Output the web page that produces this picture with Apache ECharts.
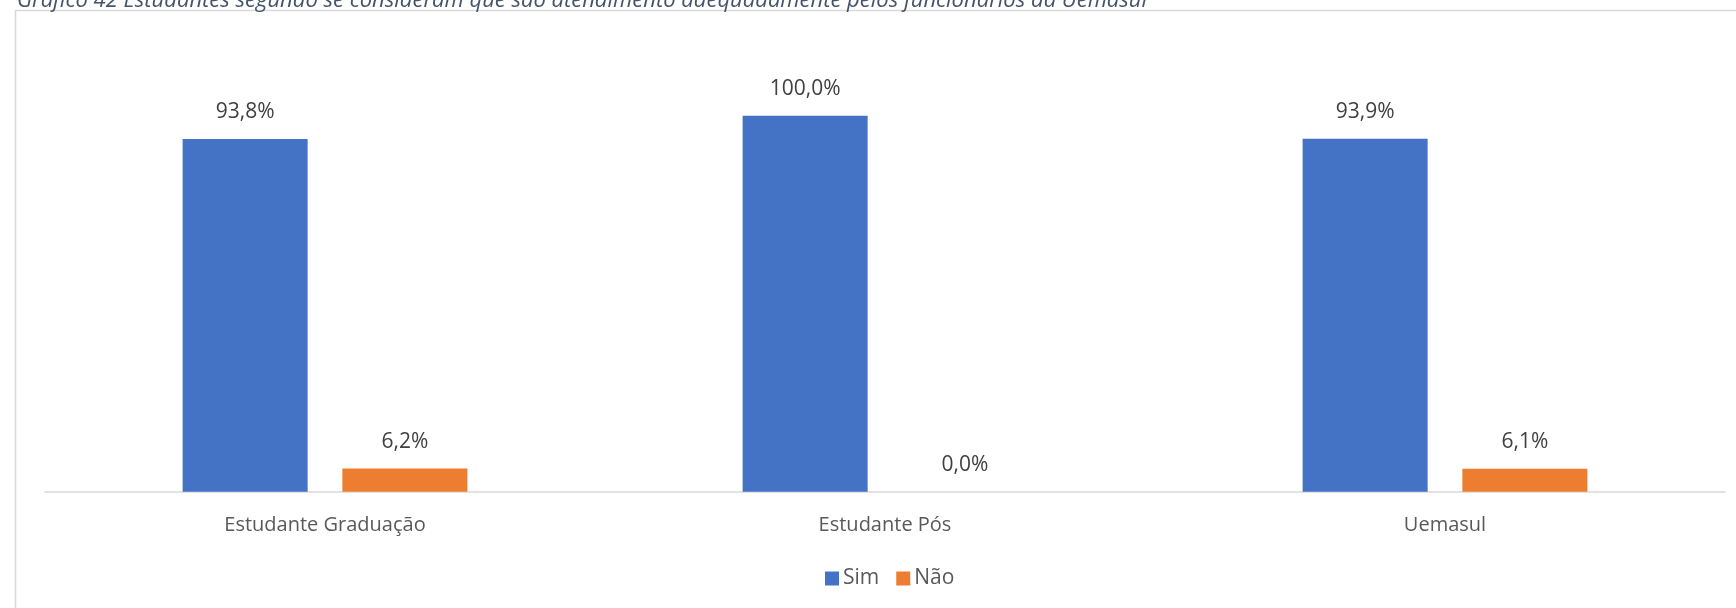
<!DOCTYPE html>
<html>
<head>
<meta charset="utf-8">
<script src="https://cdn.jsdelivr.net/npm/echarts@6/dist/echarts.min.js"></script>
<style>
html,body{margin:0;padding:0;background:#fff;}
#c{width:1736px;height:608px;}
</style>
</head>
<body>
<div id="c"></div>
<script>
const titleText = 'Gráfico 42 Estudantes segundo se consideram que são atendimento adequadamente pelos funcionários da Uemasul';
const categories = ['Estudante Graduação', 'Estudante Pós', 'Uemasul'];
const seriesNames = ['Sim', 'Não'];
const simValues = [93.8, 100.0, 93.9];
const naoValues = [6.2, 0.0, 6.1];

const chart = echarts.init(document.getElementById('c'), null, {renderer: 'canvas'});
const fmt = p => p.value.toFixed(1).replace('.', ',') + '%';
const labelStyle = {
  show: true, position: 'top', distance: 16, formatter: fmt,
  fontFamily: 'Open Sans', fontSize: 21, color: '#404040'
};
chart.setOption({
  animation: false,
  backgroundColor: '#ffffff',
  title: {
    text: titleText, left: 12, top: -15,
    textStyle: {fontFamily: 'Open Sans', fontStyle: 'italic', fontWeight: 'normal', fontSize: 22, color: '#44546A'}
  },
  graphic: [{
    type: 'rect', silent: true, z: -1,
    shape: {x: 15.5, y: 10.5, width: 1800, height: 700},
    style: {fill: null, stroke: '#d9d9d9', lineWidth: 1.5}
  }],
  legend: {
    data: seriesNames, left: 820, top: 563,
    itemWidth: 14, itemHeight: 14, itemGap: 17,
    icon: 'rect',
    textStyle: {fontFamily: 'Open Sans', fontSize: 21, color: '#595959', padding: [0, 0, 0, -1]}
  },
  grid: {left: 45, right: 11, top: 40.5, bottom: 116.3, containLabel: false},
  xAxis: {
    type: 'category', data: categories,
    axisLine: {lineStyle: {color: '#d9d9d9', width: 1.5}},
    axisTick: {show: false},
    axisLabel: {fontFamily: 'Open Sans', fontSize: 20, color: '#595959', margin: 24}
  },
  yAxis: {type: 'value', min: 0, max: 120, show: false, splitLine: {show: false}},
  series: [
    {name: seriesNames[0], type: 'bar', data: simValues, barWidth: 125, barGap: '27.8%',
     itemStyle: {color: '#4472C4'}, label: labelStyle},
    {name: seriesNames[1], type: 'bar', data: naoValues, barWidth: 125, barGap: '27.8%',
     itemStyle: {color: '#ED7D31'}, label: labelStyle}
  ]
});
</script>
</body>
</html>
